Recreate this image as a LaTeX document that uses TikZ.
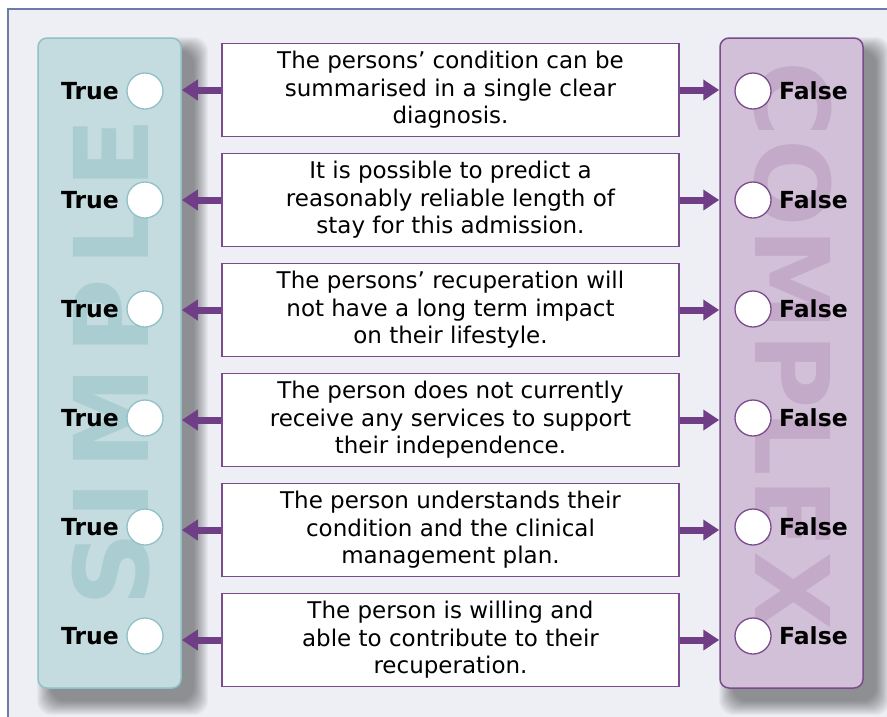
\documentclass[tikz,border=0pt]{standalone}
\usepackage{fontspec}
\setmainfont{DejaVu Sans}
\usetikzlibrary{arrows.meta}
\usetikzlibrary{calc}

\definecolor{framebg}{HTML}{EEEFF5}
\definecolor{frameline}{HTML}{6E7AA8}
\definecolor{simplebg}{HTML}{C4DCDF}
\definecolor{simpleline}{HTML}{8FC1C6}
\definecolor{simplemark}{HTML}{AACDD1}
\definecolor{complexbg}{HTML}{D2C0D8}
\definecolor{complexline}{HTML}{7B4B8E}
\definecolor{complexmark}{HTML}{C4AAC9}
\definecolor{arrowpurple}{HTML}{6F3E86}

\begin{document}
\begin{tikzpicture}[x = 1pt, y = -1pt,
  panel/.style = {line width = 1.5pt, rounded corners = 9pt,
    minimum width = 143pt, minimum height = 650pt},
  softshadow/.style = {black, opacity = .032, rounded corners = 14pt},
  statement/.style = {draw = complexline, line width = 1.5pt, fill = white,
    minimum width = 457pt, minimum height = 93pt, align = center,
    font = \fontsize{23}{27.5}\selectfont},
  answer/.style = {circle, fill = white, line width = 1.3pt,
    minimum size = 36pt, inner sep = 0pt},
  truedot/.style = {answer, draw = simpleline,
    label = {[font = \fontsize{23.5}{26}\selectfont\bfseries,
      xshift = -4pt]left:True}},
  falsedot/.style = {answer, draw = complexline,
    label = {[font = \fontsize{23.5}{26}\selectfont\bfseries,
      xshift = 4pt]right:False}},
  pointer/.style = {arrowpurple, line width = 7pt,
    -{Triangle[length = 16pt, width = 20pt]}},
  watermark/.style = {anchor = base,
    font = \fontsize{103}{103}\selectfont\bfseries}
  ]
  \useasboundingbox (0, 0) rectangle (887, 716);
  \draw[frameline, fill = framebg, line width = 2pt] (8, 9) rectangle (900, 730);

  \coordinate (simple nw) at (38, 38);
  \coordinate (simple se) at (181, 688);
  \coordinate (complex nw) at (720, 38);
  \coordinate (complex se) at (863, 688);
  \foreach \r in {0, 1, ..., 14} {
    \fill[softshadow] ($(simple nw) + (13 - \r, 13 - \r)$) rectangle
      ($(simple se) + (13 + \r, 13 + \r)$);
    \fill[softshadow] ($(complex nw) + (13 - \r, 13 - \r)$) rectangle
      ($(complex se) + (13 + \r, 13 + \r)$);
  }

  \node[panel, draw = simpleline, fill = simplebg] (simple) at (109.5, 363) {};
  \node[panel, draw = complexline, fill = complexbg] (complex) at (791.5, 363) {};

  \node[watermark, rotate = 90, text = simplemark] at (148, 362)
  {\addfontfeature{LetterSpace = 12}SIMPLE};
  \node[watermark, rotate = -90, text = complexmark] at (755, 346)
  {\addfontfeature{LetterSpace = 2}COMPLEX};

  \node[statement] (s1) at (450.5, 90)
  {The persons’ condition can be\\summarised in a single clear\\diagnosis.};
  \node[statement] (s2) at (450.5, 200)
  {It is possible to predict a\\reasonably reliable length of\\stay for this admission.};
  \node[statement] (s3) at (450.5, 310)
  {The persons’ recuperation will\\not have a long term impact\\on their lifestyle.};
  \node[statement] (s4) at (450.5, 420)
  {The person does not currently\\receive any services to support\\their independence.};
  \node[statement] (s5) at (450.5, 530)
  {The person understands their\\condition and the clinical\\management plan.};
  \node[statement] (s6) at (450.5, 640)
  {The person is willing and\\able to contribute to their\\recuperation.};

  \node[truedot] (t1) at (145, 91) {};
  \node[truedot] (t2) at (145, 200) {};
  \node[truedot] (t3) at (145, 309) {};
  \node[truedot] (t4) at (145, 418) {};
  \node[truedot] (t5) at (145, 527) {};
  \node[truedot] (t6) at (145, 636) {};

  \node[falsedot] (f1) at (753, 91) {};
  \node[falsedot] (f2) at (753, 200) {};
  \node[falsedot] (f3) at (753, 309) {};
  \node[falsedot] (f4) at (753, 418) {};
  \node[falsedot] (f5) at (753, 527) {};
  \node[falsedot] (f6) at (753, 636) {};

  \draw[pointer] (s1.west) -- (s1.west -| simple.east);
  \draw[pointer] (s2.west) -- (s2.west -| simple.east);
  \draw[pointer] (s3.west) -- (s3.west -| simple.east);
  \draw[pointer] (s4.west) -- (s4.west -| simple.east);
  \draw[pointer] (s5.west) -- (s5.west -| simple.east);
  \draw[pointer] (s6.west) -- (s6.west -| simple.east);

  \draw[pointer] (s1.east) -- (s1.east -| complex.west);
  \draw[pointer] (s2.east) -- (s2.east -| complex.west);
  \draw[pointer] (s3.east) -- (s3.east -| complex.west);
  \draw[pointer] (s4.east) -- (s4.east -| complex.west);
  \draw[pointer] (s5.east) -- (s5.east -| complex.west);
  \draw[pointer] (s6.east) -- (s6.east -| complex.west);
\end{tikzpicture}
\end{document}
